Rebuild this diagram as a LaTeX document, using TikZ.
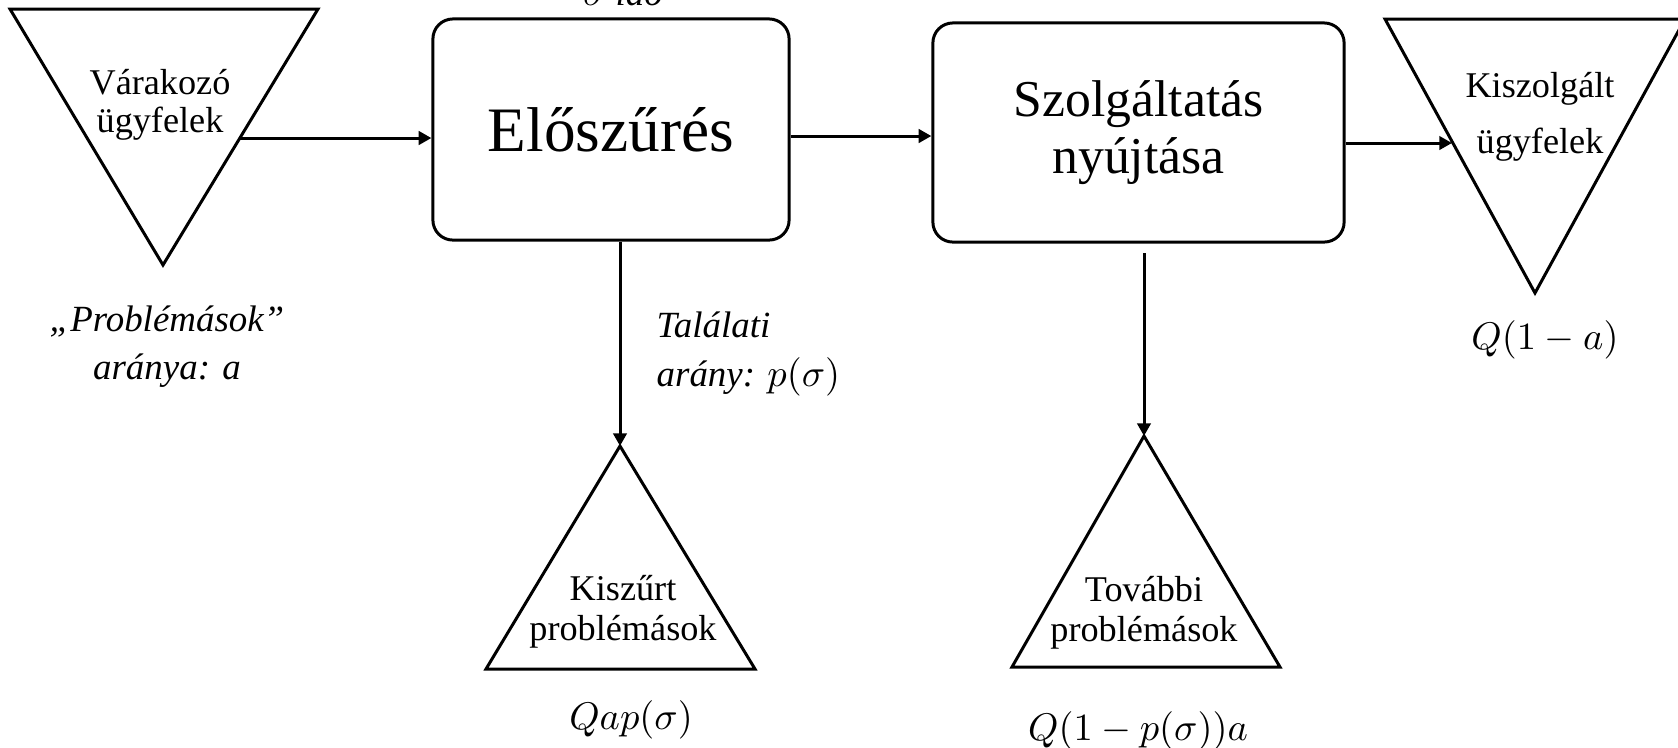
\documentclass[tikz,border=0pt]{standalone}
\usepackage{fontspec}
\setmainfont{Liberation Serif}
\usetikzlibrary{arrows.meta}
\tikzset{
	folyamat/.style={draw, line width=0.85pt, rounded corners=0.2cm, align=center, inner sep=0pt},
	tartaly/.style={line width=0.85pt},
	nyil/.style={line width=0.85pt, -{Triangle[length=3.6pt,width=3.8pt]}},
	felirat/.style={align=center, inner sep=0pt, font=\fontsize{10.3}{11.4}\selectfont},
	megj/.style={inner sep=0pt, font=\fontsize{10.5}{13.7}\selectfont\itshape},
	keplet/.style={inner sep=0pt, font=\fontsize{10.5}{12}\selectfont}
}

\begin{document}
\begin{tikzpicture}[x=0.01cm, y=-0.01cm]
		%%%%% START %%%%%
		\clip (0, 0) rectangle (1678, 747);
		
		% tartalyok
		\draw[tartaly] (10, 9) -- (318, 9) -- (163, 265) -- cycle;
		\draw[tartaly] (1385, 19) -- (1685, 19) -- (1535, 293) -- cycle;
		\draw[tartaly] (620, 446) -- (755, 669) -- (486, 669) -- cycle;
		\draw[tartaly] (1144, 436) -- (1280, 667) -- (1012, 667) -- cycle;
		
		\coordinate (varki) at (240, 138);
		\coordinate (kiszbe) at (1452, 143);
		\coordinate (csucs1) at (620, 446);
		\coordinate (csucs2) at (1144, 436);
		\coordinate (sor2) at (0, 136);
		\coordinate (le2) at (1144, 253);
		
		\node[felirat, font=\fontsize{10.3}{10.8}\selectfont] (varako) at (160, 105) {Várakozó\\ügyfelek};
		\node[felirat, font=\fontsize{10.3}{16}\selectfont] (kiszolg) at (1540, 117) {Kiszolgált\\ügyfelek};
		\node[felirat] (kiszurt) at (623, 612) {Kiszűrt\\problémások};
		\node[felirat] (tovabbi) at (1144, 613) {További\\problémások};
		
		% folyamatok
		\node[folyamat, minimum width=3.56cm, minimum height=2.21cm, font=\fontsize{18}{20}\selectfont] (elo) at (611, 129.5) {Előszűrés};
		\node[folyamat, minimum width=4.11cm, minimum height=2.19cm, font=\fontsize{14.7}{16}\selectfont] (szolg) at (1138.5, 132.5) {\raisebox{0pt}[\height][0pt]{}Szolgáltatás\\nyújtása};
		
		\draw[nyil] (varki) -- (elo.west |- varki);
		\draw[nyil] (elo.east |- sor2) -- (szolg.west |- sor2);
		\draw[nyil] (szolg.east |- kiszbe) -- (kiszbe);
		\draw[nyil] (elo.south -| csucs1) -- (csucs1);
		\draw[nyil] (le2) -- (csucs2);
		
		% feliratok
		\node[megj, anchor=base] (ido) at (623, 5) {$\sigma$ idő};
		\node[megj, align=center] (probl) at (167, 347) {„Problémások”\\aránya: a};
		\node[megj, align=left, anchor=west] (talalat) at (656, 354) {Találati\\arány: $p(\sigma)$};
		\node[keplet] (ki1) at (1545, 340) {$Q(1-a)$};
		\node[keplet] (ki2) at (631, 720) {$Qap(\sigma)$};
		\node[keplet] (ki3) at (1138, 731) {$Q(1-p(\sigma))a$};
		%%%%% END %%%%%
\end{tikzpicture}
\end{document}
